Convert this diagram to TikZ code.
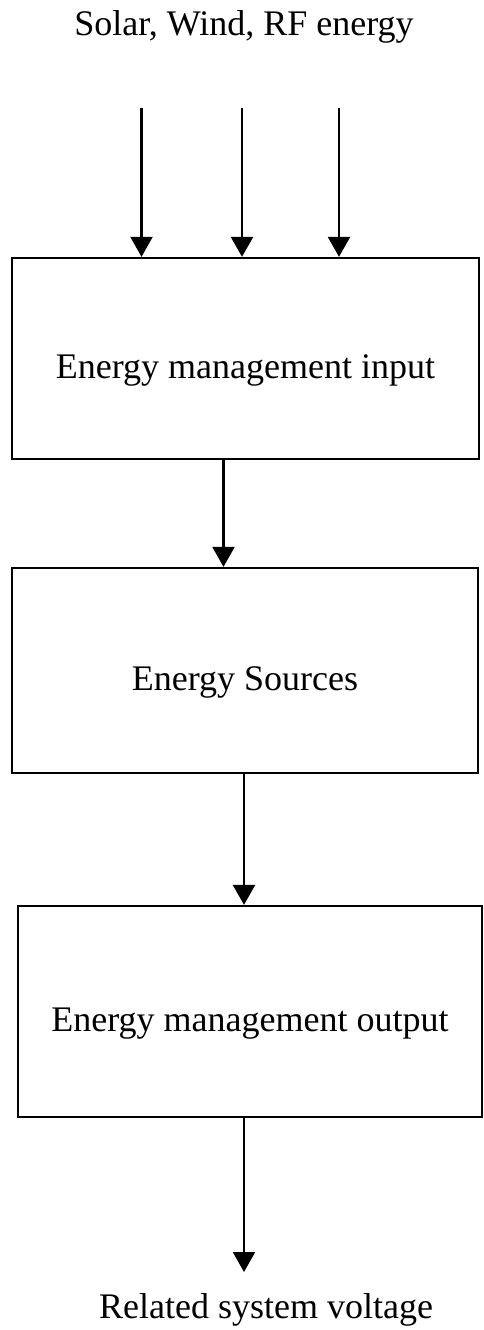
\documentclass[tikz,border=0pt]{standalone}
\usepackage{fontspec}
\setmainfont{Liberation Serif}
\usetikzlibrary{arrows.meta,positioning}

\begin{document}
\begin{tikzpicture}[x=1pt,y=-1pt,
  font=\fontsize{36}{40}\selectfont,
  block/.style={draw,line width=2.3pt,text height=40pt,text depth=0pt,inner sep=0pt},
  arr/.style={-{Triangle[length=20pt,width=22pt]},line width=2.3pt}]
\useasboundingbox (0,0) rectangle (484,1330);
\node[anchor=base] (src) at (244,36) {Solar, Wind, RF energy};
\node[block,minimum width=467pt,minimum height=201pt] (inbox) at (245.5,358.5) {Energy management input};
\node[block,minimum width=466pt,minimum height=205pt] (srcbox) at (245,670.5) {Energy Sources};
\node[block,minimum width=464pt,minimum height=211pt] (outbox) at (250,1011.5) {Energy management output};
\node[anchor=base] (volt) at (266,1318) {Related system voltage};
\coordinate (s1) at (141.5,108);
\coordinate (s2) at (242,108);
\coordinate (s3) at (339,108);
\coordinate (m1) at (223.5,0);
\coordinate (m2) at (244,0);
\coordinate (vout) at (244,1272);
\draw[arr] (s1) -- (s1 |- inbox.north);
\draw[arr] (s2) -- (s2 |- inbox.north);
\draw[arr] (s3) -- (s3 |- inbox.north);
\draw[arr] (inbox.south -| m1) -- (srcbox.north -| m1);
\draw[arr] (srcbox.south -| m2) -- (outbox.north -| m2);
\draw[arr] (outbox.south -| m2) -- (vout);
\end{tikzpicture}
\end{document}
